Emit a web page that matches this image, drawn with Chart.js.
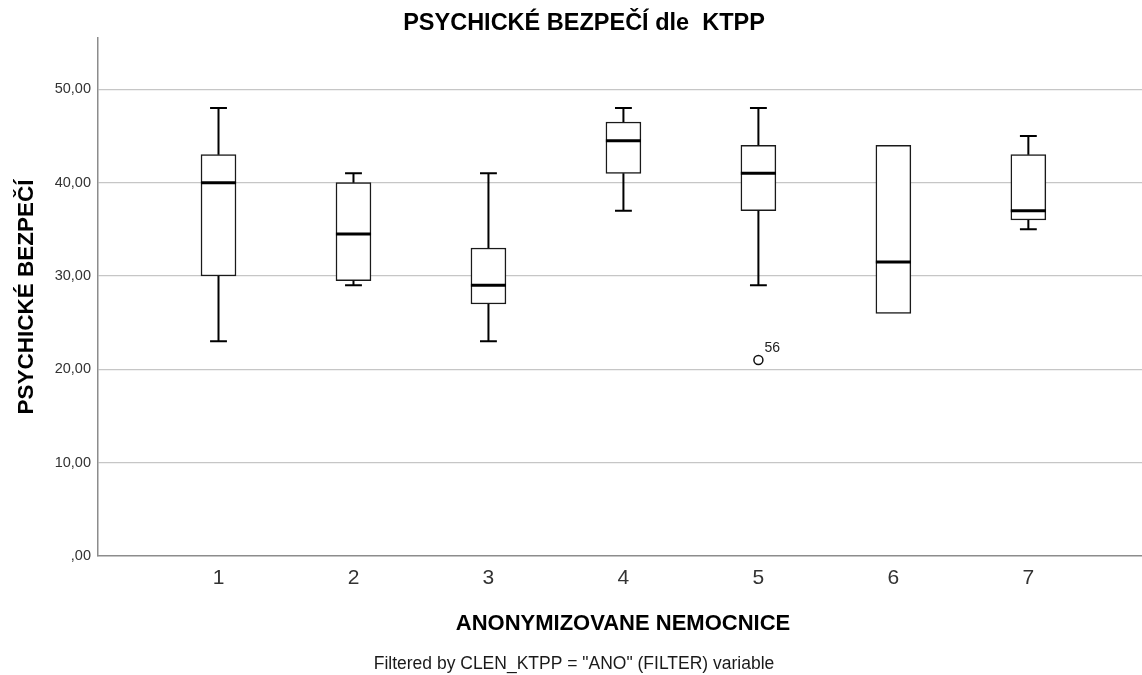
<!DOCTYPE html>
<html>
<head>
<meta charset="utf-8">
<script src="https://cdn.jsdelivr.net/npm/chart.js@4/dist/chart.umd.min.js"></script>
<style>
  html, body { margin: 0; padding: 0; background: #ffffff; }
  #wrap { width: 1142px; height: 675px; }
</style>
</head>
<body>
<div id="wrap"><canvas id="c" width="1142" height="675"></canvas></div>
<script>
// Hospitals (anonymised) and the five-number summary of the score per hospital
const hospitals   = [1, 2, 3, 4, 5, 6, 7];
const whiskerLow  = [23, 29, 23, 37, 29, 26, 35];
const quartile1   = [30, 29.5, 27, 41, 37, 26, 36];
const medians     = [40, 34.5, 29, 44.5, 41, 31.5, 37];
const quartile3   = [43, 40, 33, 46.5, 44, 44, 43];
const whiskerHigh = [48, 41, 41, 48, 48, 44, 45];

// Outliers: hospital, value, case number
const outlierHospital = [5];
const outlierValue    = [21];
const outlierCase     = ['56'];

// Axis ticks
const yTickValues = [0, 10, 20, 30, 40, 50];
const yTickLabels = [',00', '10,00', '20,00', '30,00', '40,00', '50,00'];

const chartTitle = 'PSYCHICKÉ BEZPEČÍ dle  KTPP';
const yTitle = 'PSYCHICKÉ BEZPEČÍ';
const xTitle = 'ANONYMIZOVANE NEMOCNICE';
const footnote = 'Filtered by CLEN_KTPP = "ANO" (FILTER) variable';

const FONT = '"Liberation Sans", Arial, sans-serif';

// Whiskers, caps and median lines drawn on top of the boxes
const boxExtras = {
  id: 'boxExtras',
  afterDatasetsDraw(chart) {
    const { ctx, scales: { x, y } } = chart;
    ctx.save();
    ctx.strokeStyle = '#000000';
    hospitals.forEach((h, i) => {
      const cx = x.getPixelForValue(h);
      const capHalf = (x.getPixelForValue(h + 0.0625) - cx);
      const boxHalf = (x.getPixelForValue(h + 0.13) - cx);
      const yMin = y.getPixelForValue(whiskerLow[i]);
      const yMax = y.getPixelForValue(whiskerHigh[i]);
      const yQ1 = y.getPixelForValue(quartile1[i]);
      const yQ3 = y.getPixelForValue(quartile3[i]);
      const yMed = y.getPixelForValue(medians[i]);
      ctx.lineWidth = 2;
      ctx.beginPath();
      if (whiskerHigh[i] > quartile3[i]) {
        ctx.moveTo(cx, yQ3); ctx.lineTo(cx, yMax);
        ctx.moveTo(cx - capHalf, yMax); ctx.lineTo(cx + capHalf, yMax);
      }
      if (whiskerLow[i] < quartile1[i]) {
        ctx.moveTo(cx, yQ1); ctx.lineTo(cx, yMin);
        ctx.moveTo(cx - capHalf, yMin); ctx.lineTo(cx + capHalf, yMin);
      }
      ctx.stroke();
      ctx.lineWidth = 3;
      ctx.beginPath();
      ctx.moveTo(cx - boxHalf, yMed); ctx.lineTo(cx + boxHalf, yMed);
      ctx.stroke();
    });
    // case labels next to outliers
    ctx.fillStyle = '#222222';
    ctx.font = '14px ' + FONT;
    ctx.textAlign = 'left';
    ctx.textBaseline = 'alphabetic';
    outlierHospital.forEach((h, i) => {
      const px = x.getPixelForValue(h);
      const py = y.getPixelForValue(outlierValue[i]);
      ctx.fillText(outlierCase[i], px + 6, py - 8);
    });
    ctx.restore();
  }
};

// Chart title, axis titles and the filter note
const texts = {
  id: 'texts',
  afterDraw(chart) {
    const { ctx, chartArea: a } = chart;
    ctx.save();
    ctx.fillStyle = '#000000';
    ctx.textAlign = 'center';
    ctx.textBaseline = 'alphabetic';
    ctx.font = 'bold 23.5px ' + FONT;
    ctx.fillText(chartTitle, 584, 30);
    ctx.font = 'bold 22px ' + FONT;
    ctx.fillText(xTitle, 623, 630);
    ctx.font = '17.5px ' + FONT;
    ctx.fillStyle = '#1a1a1a';
    ctx.fillText(footnote, 574, 669);
    ctx.fillStyle = '#000000';
    ctx.translate(33, (a.top + a.bottom) / 2);
    ctx.rotate(-Math.PI / 2);
    ctx.font = 'bold 22.5px ' + FONT;
    ctx.fillText(yTitle, 0, 0);
    ctx.restore();
  }
};

const whiteBg = {
  id: 'whiteBg',
  beforeDraw(chart) {
    const { ctx, width, height } = chart;
    ctx.save();
    ctx.fillStyle = '#ffffff';
    ctx.fillRect(0, 0, width, height);
    ctx.restore();
  }
};

new Chart(document.getElementById('c'), {
  type: 'bar',
  data: {
    datasets: [
      {
        type: 'bar',
        label: 'IQR',
        data: hospitals.map((h, i) => ({ x: h, y: [quartile1[i], quartile3[i]] })),
        backgroundColor: '#ffffff',
        borderColor: '#1a1a1a',
        borderWidth: 1.5,
        borderSkipped: false,
        barThickness: 35,
        order: 2
      },
      {
        type: 'scatter',
        label: 'outliers',
        data: outlierHospital.map((h, i) => ({ x: h, y: outlierValue[i] })),
        pointStyle: 'circle',
        pointRadius: 4.5,
        pointBackgroundColor: '#ffffff',
        pointBorderColor: '#111111',
        pointBorderWidth: 1.5,
        order: 1
      }
    ]
  },
  options: {
    responsive: false,
    animation: false,
    devicePixelRatio: 1,
    layout: { autoPadding: false, padding: { top: 38, left: 0, right: 0, bottom: 0 } },
    plugins: {
      legend: { display: false },
      title: { display: false },
      tooltip: { enabled: false }
    },
    scales: {
      x: {
        type: 'linear',
        offset: false,
        min: 0.1072,
        max: 7.842,
        afterFit(s) { s.height = 119; s.paddingLeft = 0; s.paddingRight = 0; },
        afterBuildTicks(s) { s.ticks = hospitals.map(v => ({ value: v })); },
        grid: { display: false, drawTicks: false, offset: false },
        border: { display: true, color: '#8c8c8c', width: 1.5 },
        ticks: {
          padding: 10,
          color: '#333333',
          font: { family: FONT, size: 21 },
          callback: (v) => String(v),
          maxRotation: 0
        }
      },
      y: {
        type: 'linear',
        min: 0,
        max: 55.5,
        afterFit(s) { s.width = 98; },
        afterBuildTicks(s) { s.ticks = yTickValues.map(v => ({ value: v })); },
        grid: {
          drawTicks: false,
          color: (c) => (c.tick && c.tick.value === 0 ? 'rgba(0,0,0,0)' : '#c6c6c6'),
          lineWidth: 1.3
        },
        border: { display: true, color: '#8c8c8c', width: 1.5 },
        ticks: {
          padding: 7,
          color: '#333333',
          font: { family: FONT, size: 14.5 },
          callback: (v) => yTickLabels[yTickValues.indexOf(v)]
        }
      }
    }
  },
  plugins: [whiteBg, boxExtras, texts]
});
</script>
</body>
</html>
